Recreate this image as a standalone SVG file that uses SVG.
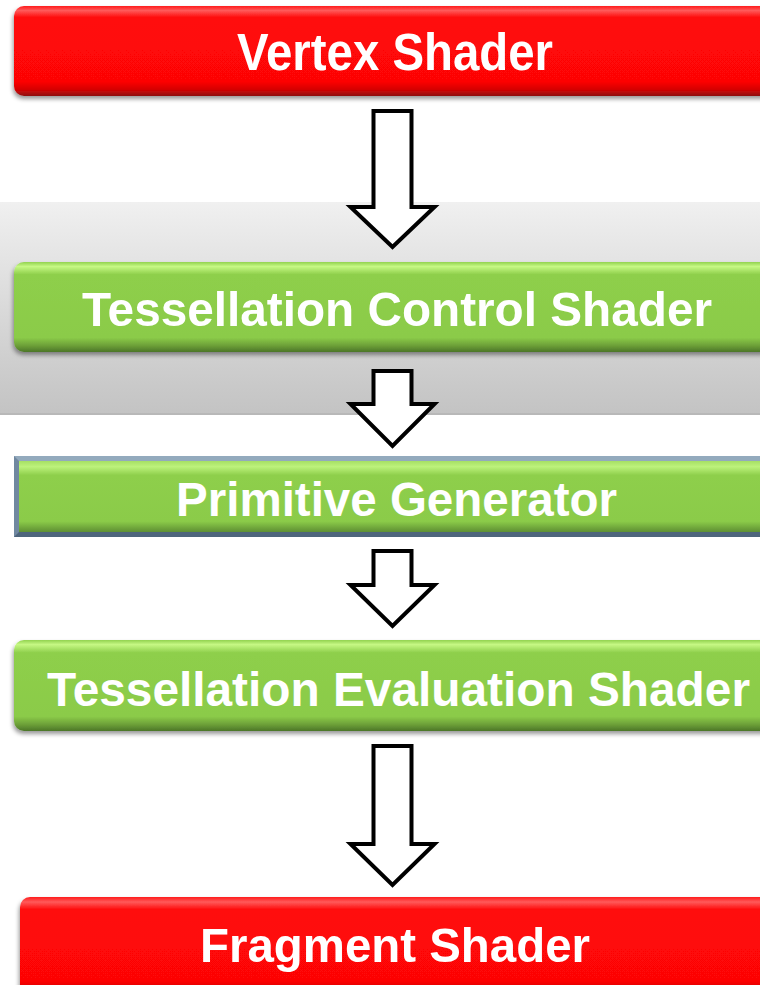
<svg xmlns="http://www.w3.org/2000/svg" width="760" height="985" viewBox="0 0 760 985">
  <defs>
    <linearGradient id="redFill" x1="0" y1="0" x2="0" y2="1">
      <stop offset="0" stop-color="#ff1a1a"/>
      <stop offset="0.05" stop-color="#ff5a5a"/>
      <stop offset="0.13" stop-color="#ff0808"/>
      <stop offset="0.84" stop-color="#fd0606"/>
      <stop offset="0.93" stop-color="#d40404"/>
      <stop offset="1" stop-color="#8e1010"/>
    </linearGradient>
    <linearGradient id="greenFill" x1="0" y1="0" x2="0" y2="1">
      <stop offset="0" stop-color="#92d250"/>
      <stop offset="0.05" stop-color="#c6f884"/>
      <stop offset="0.14" stop-color="#8ecf4b"/>
      <stop offset="0.84" stop-color="#8bcb49"/>
      <stop offset="0.93" stop-color="#6c9f38"/>
      <stop offset="1" stop-color="#4c7628"/>
    </linearGradient>
    <linearGradient id="bevelGreen" x1="0" y1="0" x2="0" y2="1">
      <stop offset="0" stop-color="#a6e064"/>
      <stop offset="0.08" stop-color="#bdf27c"/>
      <stop offset="0.2" stop-color="#8ecf4b"/>
      <stop offset="0.85" stop-color="#8bcb49"/>
      <stop offset="1" stop-color="#5e8f33"/>
    </linearGradient>
    <linearGradient id="bandFill" x1="0" y1="0" x2="0" y2="1">
      <stop offset="0" stop-color="#f0f0f0"/>
      <stop offset="1" stop-color="#c3c3c3"/>
    </linearGradient>
    <filter id="shadow" x="-5%" y="-20%" width="110%" height="150%">
      <feDropShadow dx="-1" dy="3" stdDeviation="2" flood-color="#000" flood-opacity="0.4"/>
    </filter>
  </defs>
  <style>
    .label { font-family: "Liberation Sans", Arial, sans-serif; font-weight: bold; fill: #ffffff; }
    .arrow { fill: #ffffff; stroke: #000000; stroke-width: 4; stroke-linejoin: miter; }
  </style>

  <rect width="760" height="985" fill="#ffffff"/>

  <!-- grey band behind the control stage -->
  <g id="control-band">
    <rect x="0" y="202" width="760" height="213" fill="url(#bandFill)"/>
    <line x1="0" y1="414" x2="760" y2="414" stroke="#b4b4b4" stroke-width="1.5"/>
  </g>

  <g id="vertex-shader">
    <rect x="14" y="6" width="790" height="90" rx="10" fill="url(#redFill)" filter="url(#shadow)"/>
    <text class="label" x="237" y="70" font-size="51" textLength="316" lengthAdjust="spacingAndGlyphs">Vertex Shader</text>
  </g>

  <g id="tess-control-shader">
    <rect x="14" y="262" width="790" height="90" rx="10" fill="url(#greenFill)" filter="url(#shadow)"/>
    <text class="label" x="82" y="326" font-size="49" textLength="630" lengthAdjust="spacingAndGlyphs">Tessellation Control Shader</text>
  </g>

  <g id="primitive-generator">
    <rect x="14" y="456" width="790" height="81" fill="#7088a0"/>
    <polygon points="14,456 804,456 804,461 19,461" fill="#93aabd"/>
    <polygon points="14,537 804,537 804,532 19,532" fill="#4e657c"/>
    <rect x="19" y="461" width="785" height="71" fill="url(#bevelGreen)"/>
    <text class="label" x="176" y="516" font-size="48" textLength="441" lengthAdjust="spacingAndGlyphs">Primitive Generator</text>
  </g>

  <g id="tess-evaluation-shader">
    <rect x="14" y="640" width="790" height="91" rx="10" fill="url(#greenFill)" filter="url(#shadow)"/>
    <text class="label" x="47" y="706" font-size="48" textLength="703" lengthAdjust="spacingAndGlyphs">Tessellation Evaluation Shader</text>
  </g>

  <g id="fragment-shader">
    <rect x="20" y="897" width="790" height="100" rx="10" fill="url(#redFill)" filter="url(#shadow)"/>
    <text class="label" x="200" y="962" font-size="49" textLength="390" lengthAdjust="spacingAndGlyphs">Fragment Shader</text>
  </g>

  <!-- block arrows between stages -->
  <g id="connectors">
    <polygon class="arrow" points="373.5,111 411.5,111 411.5,207 434.5,207 392.5,247 350.5,207 373.5,207"/>
    <polygon class="arrow" points="373.5,371 411.5,371 411.5,404 434.5,404 392.5,446 350.5,404 373.5,404"/>
    <polygon class="arrow" points="373.5,551 411.5,551 411.5,585 434.5,585 392.5,626 350.5,585 373.5,585"/>
    <polygon class="arrow" points="373.5,746 411.5,746 411.5,844 434.5,844 392.5,885 350.5,844 373.5,844"/>
  </g>
</svg>
